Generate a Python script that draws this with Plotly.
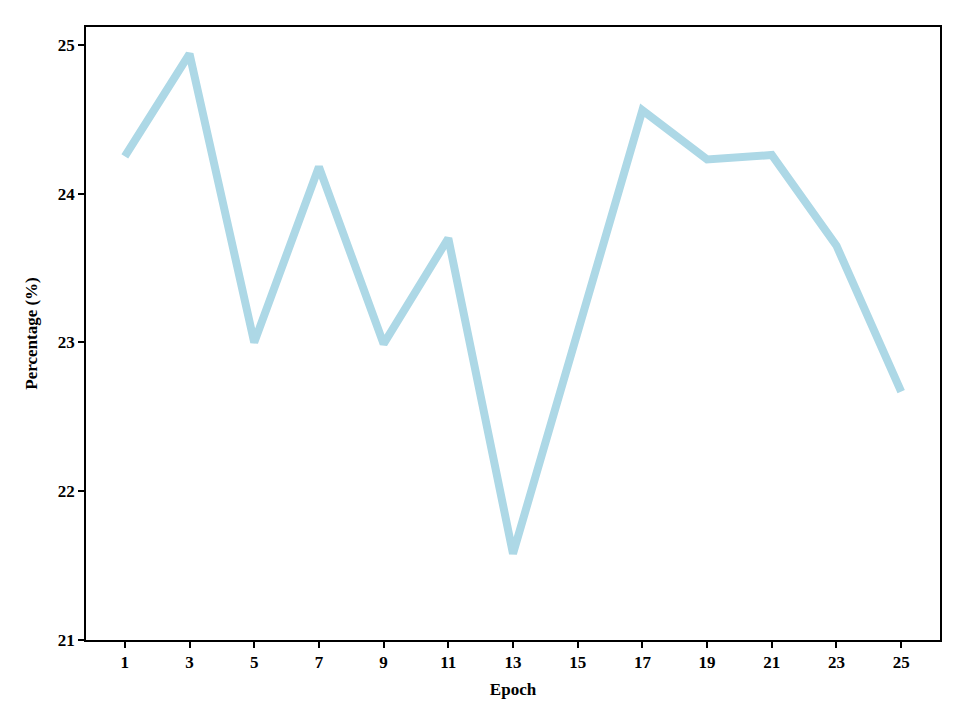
import plotly.graph_objects as go

epochs = [1, 3, 5, 7, 9, 11, 13, 15, 17, 19, 21, 23, 25]
percentage = [24.25, 24.94, 23.00, 24.18, 22.99, 23.70, 21.58, 23.08, 24.56, 24.23, 24.26, 23.65, 22.67]

x_ticks = [1, 3, 5, 7, 9, 11, 13, 15, 17, 19, 21, 23, 25]
y_ticks = [21, 22, 23, 24, 25]

FONT = "Liberation Serif, Times New Roman, serif"

fig = go.Figure()
fig.add_trace(go.Scatter(
    x=epochs, y=percentage, mode="lines",
    line=dict(color="#add8e6", width=8),
    showlegend=False,
))

axis_common = dict(
    showline=True, linecolor="black", linewidth=1.5, mirror=True,
    ticks="outside", ticklen=6, tickwidth=1.5, tickcolor="black",
    showgrid=False, zeroline=False,
    tickfont=dict(family=FONT, size=17, color="black", weight="bold"),
)

fig.update_xaxes(
    range=[-0.2, 26.2], tickvals=x_ticks,
    title=dict(text="Epoch", font=dict(family=FONT, size=17, color="black", weight="bold"), standoff=12),
    **axis_common,
)
fig.update_yaxes(
    range=[21, 25.12], tickvals=y_ticks,
    title=dict(text="Percentage (%)", font=dict(family=FONT, size=17, color="black", weight="bold"), standoff=16),
    **axis_common,
)

# the page adds an 8px offset, so margins are trimmed on the left/top
fig.update_layout(
    width=968, height=726,
    margin=dict(l=78, r=36, t=19, b=94),
    plot_bgcolor="white", paper_bgcolor="white",
    font=dict(family=FONT, color="black"),
)

fig.write_html("out.html")
